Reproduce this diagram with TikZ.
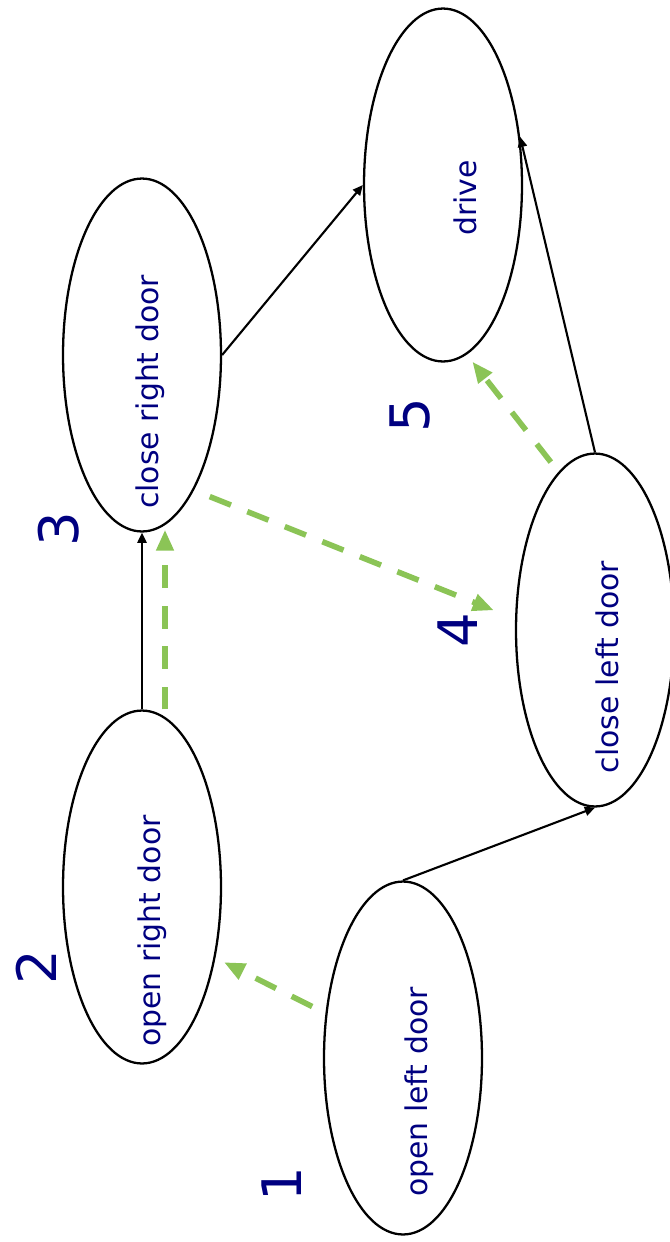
\documentclass[tikz,border=0pt]{standalone}
\usepackage{fontspec}
\setmainfont{DejaVu Sans}
\usetikzlibrary{arrows.meta,shapes}
\definecolor{navy}{RGB}{0,0,128}
\definecolor{lgreen}{RGB}{139,196,86}
\tikzstyle{st} = [ellipse, draw, line width=1.3pt, inner sep=0pt,
    minimum width=3.16cm, minimum height=7.06cm]
\tikzstyle{lbl} = [text=navy, rotate=90, inner sep=0pt,
    font=\fontsize{17}{20}\selectfont]
\tikzstyle{num} = [text=navy, rotate=90, inner sep=0pt,
    font=\fontsize{31}{36}\selectfont]
\tikzstyle{go} = [-{Triangle[length=5.8pt,width=5.2pt]}, line width=1.2pt]
\tikzstyle{seq} = [-{Triangle[length=12pt,width=9.5pt]}, lgreen, line width=3.2pt,
    dash pattern=on 13pt off 10pt]

\begin{document}
\begin{tikzpicture}[x=0.02cm, y=-0.02cm]
  \useasboundingbox (0,0) rectangle (670,1242);

  \node[st] (ol) at (403,1058) {};
  \node[st] (or) at (142,887)  {};
  \node[st] (cr) at (142,355)  {};
  \node[st] (cl) at (595,630)  {};
  \node[st] (dr) at (443,185)  {};

  \node[lbl] (olt) at (419,1092) {open left door};
  \node[lbl] (ort) at (152,931)  {open right door};
  \node[lbl] (crt) at (150,392)  {close right door};
  \node[lbl] (clt) at (607,667)  {close left door};
  \node[lbl] (drt) at (465,198)  {drive};

  \node[num] (n1) at (282,1184) {1};
  \node[num] (n2) at (36,967)   {2};
  \node[num] (n3) at (59,529)   {3};
  \node[num] (n4) at (458,630)  {4};
  \node[num] (n5) at (410,415)  {5};

  % precedence
  \draw[go] (or) -- (cr);
  \draw[go] (cr.east) -- (dr.west);
  \draw[go] (ol.north) -- (cl.south);
  \draw[go] (cl.north) -- (dr.32);

  % order of the steps
  \draw[seq, shorten <=8.5pt, shorten >=5.4pt] (ol.150) -- (or.-44);
  \draw[seq] ([shift={(23,0)}]or.north) -- ([shift={(23,-3)}]cr.south);
  \draw[seq, shorten <=9.7pt, shorten >=13pt] (cr.-69) -- (cl.172);
  \draw[seq, shorten <=7.1pt, shorten >=5.1pt] (cl.103) -- (dr.-82);
\end{tikzpicture}
\end{document}
